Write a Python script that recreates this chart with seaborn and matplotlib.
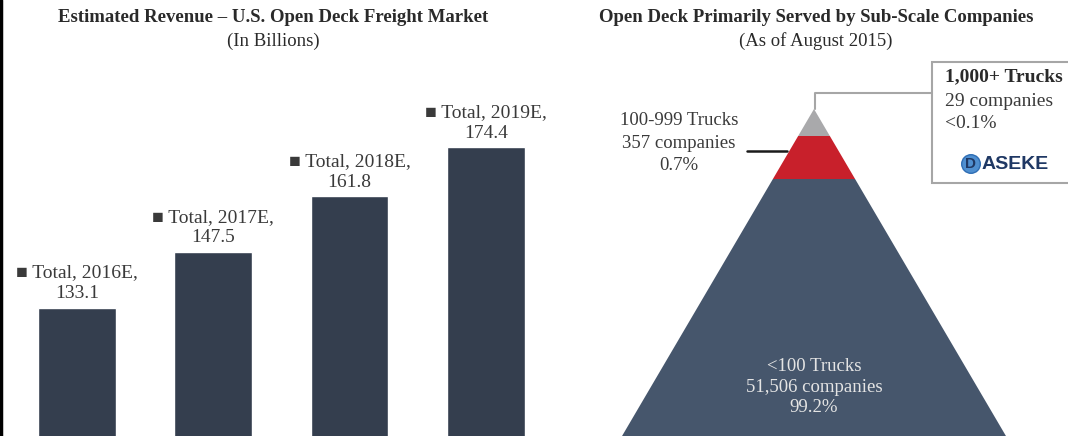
import numpy as np
import pandas as pd
import matplotlib
matplotlib.use('Agg')
import matplotlib.pyplot as plt
import seaborn as sns
from matplotlib.patches import Rectangle

# data
years = ['2016E', '2017E', '2018E', '2019E']
revenue = [133.1, 147.5, 161.8, 174.4]

tier_names = ['1,000+ Trucks', '100-999 Trucks', '<100 Trucks']
tier_companies = ['29', '357', '51,506']
tier_share = ['<0.1%', '0.7%', '99.2%']
tier_colors = ['#a9a9ab', '#c8202b', '#46566c']

sns.set_theme(style='white')
plt.rcParams['font.family'] = ['Liberation Serif', 'DejaVu Serif']

W, H = 1068, 436
fig = plt.figure(figsize=(W / 100, H / 100), dpi=100)

# left: bar chart
ax = fig.add_axes([0, 0, 545 / W, 1])
df = pd.DataFrame({'year': years, 'revenue': revenue})
sns.barplot(data=df, x='year', y='revenue', color='#343e4e', saturation=1,
            width=0.57, ax=ax)
ax.set_xlim(-77 / 136.3, (545 - 77) / 136.3)
ax.set_ylim(100, 100 + H / 3.88)
ax.axis('off')
for i, v in enumerate(revenue):
    ax.annotate('\u25a0 Total, %s,\n%.1f' % (years[i], v), (i, v),
                xytext=(0, 4), textcoords='offset points', ha='center', va='bottom',
                fontsize=14, color='#3a3a3a', linespacing=1.27)

# overlay in pixel coordinates
ov = fig.add_axes([0, 0, 1, 1])
ov.set_xlim(0, W)
ov.set_ylim(H, 0)
ov.axis('off')

ov.plot([1, 1], [0, H], color='black', lw=2.5)

ov.text(273, 18, 'Estimated Revenue \u2013 U.S. Open Deck Freight Market', ha='center', va='center',
        fontsize=13.5, fontweight='bold', color='#2a2a2a')
ov.text(273, 41, '(In Billions)', ha='center', va='center', fontsize=13.5, color='#2a2a2a')
ov.text(816, 18, 'Open Deck Primarily Served by Sub-Scale Companies', ha='center', va='center',
        fontsize=13.5, fontweight='bold', color='#2a2a2a')
ov.text(816, 41, '(As of August 2015)', ha='center', va='center', fontsize=13.5, color='#2a2a2a')

# pyramid
apex_x, apex_y, slope = 814, 109, 0.587
bounds = [109, 136, 179, 440]
for k in range(3):
    y0, y1 = bounds[k], bounds[k + 1]
    h0, h1 = (y0 - apex_y) * slope, (y1 - apex_y) * slope
    ov.fill([apex_x - h0, apex_x + h0, apex_x + h1, apex_x - h1],
            [y0, y0, y1, y1], color=tier_colors[k], lw=0)

ov.text(apex_x, 387, '%s\n%s companies\n%s' % (tier_names[2], tier_companies[2], tier_share[2]),
        ha='center', va='center', fontsize=13.5, color='#e4e4e4', linespacing=1.3)
ov.text(679, 143, '%s\n%s companies\n%s' % (tier_names[1], tier_companies[1], tier_share[1]),
        ha='center', va='center', fontsize=13.5, color='#3a3a3a', linespacing=1.4)
ov.plot([747, 787], [151, 151], color='#1a1a1a', lw=1.8)

# callout box
ov.plot([815, 815, 932], [109, 93, 93], color='#a6a6a6', lw=1.5)
ov.add_patch(Rectangle((932, 62), 200, 121, facecolor='white', edgecolor='#a6a6a6', lw=1.5))
ov.text(945, 77, tier_names[0], ha='left', va='center', fontsize=14, fontweight='bold', color='#2a2a2a')
ov.text(945, 101, '%s companies' % tier_companies[0], ha='left', va='center', fontsize=14, color='#3a3a3a')
ov.text(945, 123, tier_share[0], ha='left', va='center', fontsize=14, color='#3a3a3a')
ov.text(971, 164, 'D', ha='center', va='center', fontsize=11, fontweight='bold',
        family='Liberation Sans', color='#1f3864',
        bbox=dict(boxstyle='circle,pad=0.15', facecolor='#4f8fd0', edgecolor='#2e6db4'))
ov.text(982, 164, 'ASEKE', ha='left', va='center', fontsize=14, fontweight='bold',
        family='Liberation Sans', color='#1f3864')

fig.savefig('out.png', dpi=100)
